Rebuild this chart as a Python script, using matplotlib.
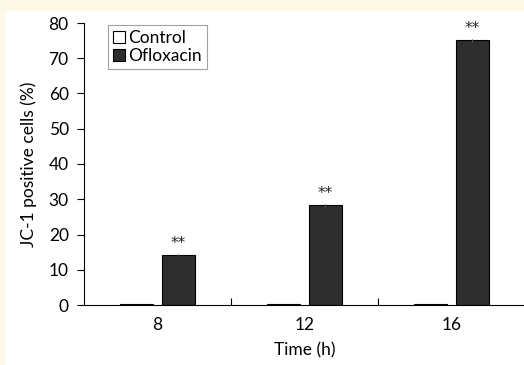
import numpy as np
import matplotlib
matplotlib.use("Agg")
import matplotlib.pyplot as plt
import matplotlib.patches as patches

plt.rcParams['font.family'] = ['Lato', 'DejaVu Sans']

tiempos = ['8', '12', '16']
control = [0.3, 0.3, 0.3]
control_err = [0.1, 0.1, 0.1]
ofloxacina = [14.2, 28.3, 75.1]
ofloxacina_err = [0.4, 0.4, 0.4]
marcas = ['**', '**', '**']

fig = plt.figure(figsize=(5.24, 3.65), dpi=100)
fig.patch.set_facecolor('white')
# franjas amarillas del fondo
fig.add_artist(patches.Rectangle((0, 1 - 11 / 365), 1, 11 / 365, transform=fig.transFigure,
                                 facecolor='#fef9e6', edgecolor='none', zorder=-1))
fig.add_artist(patches.Rectangle((0, 0), 5 / 524, 1, transform=fig.transFigure,
                                 facecolor='#fef9e6', edgecolor='none', zorder=-1))

ax = fig.add_axes([84 / 524, 1 - 305 / 365, 441 / 524, 282 / 365])
ax.set_facecolor('white')

x = np.arange(len(tiempos))
ancho = 0.225
desp = 0.14

ax.bar(x - desp, control, ancho, yerr=control_err, color='white', edgecolor='black',
       linewidth=0.8, error_kw=dict(elinewidth=0.8, capsize=0), label='Control')
ax.bar(x + desp, ofloxacina, ancho, yerr=ofloxacina_err, color='#2d2d2d', edgecolor='black',
       linewidth=0.8, error_kw=dict(elinewidth=0.8, capsize=0, ecolor='#555555'), label='Ofloxacin')

# asteriscos de significancia
for xi, v, m in zip(x, ofloxacina, marcas):
    ax.text(xi + desp, v + 1.2, m, ha='center', va='bottom', fontsize=11,
            family='DejaVu Sans', color='#222222')

ax.set_xlim(-0.5, 2.5)
ax.set_ylim(0, 80)
ax.set_yticks(range(0, 81, 10))
ax.tick_params(axis='y', direction='out', length=5, width=0.8, labelsize=12.5, pad=6)
ax.set_xticks(x)
ax.set_xticklabels(tiempos, fontsize=12.5)
ax.tick_params(axis='x', length=0, pad=9)
ax.set_xticks([0.5, 1.5], minor=True)
ax.tick_params(axis='x', which='minor', direction='in', length=5, width=0.8)

for lado in ['top', 'right']:
    ax.spines[lado].set_visible(False)
for lado in ['left', 'bottom']:
    ax.spines[lado].set_linewidth(0.8)

ax.set_xlabel('Time (h)', fontsize=12.5, labelpad=6)
ax.set_ylabel('JC-1 positive cells (%)', fontsize=12.5, labelpad=8)

leg = ax.legend(loc='upper left', bbox_to_anchor=(0.05, 1.0), fontsize=12.5, frameon=True,
                fancybox=False, edgecolor='#888888', borderpad=0.3, handlelength=0.7,
                handleheight=0.7, handletextpad=0.2, labelspacing=0.1, borderaxespad=0.1)
leg.get_frame().set_linewidth(0.8)

fig.savefig('out.png', dpi=100, facecolor='white')
